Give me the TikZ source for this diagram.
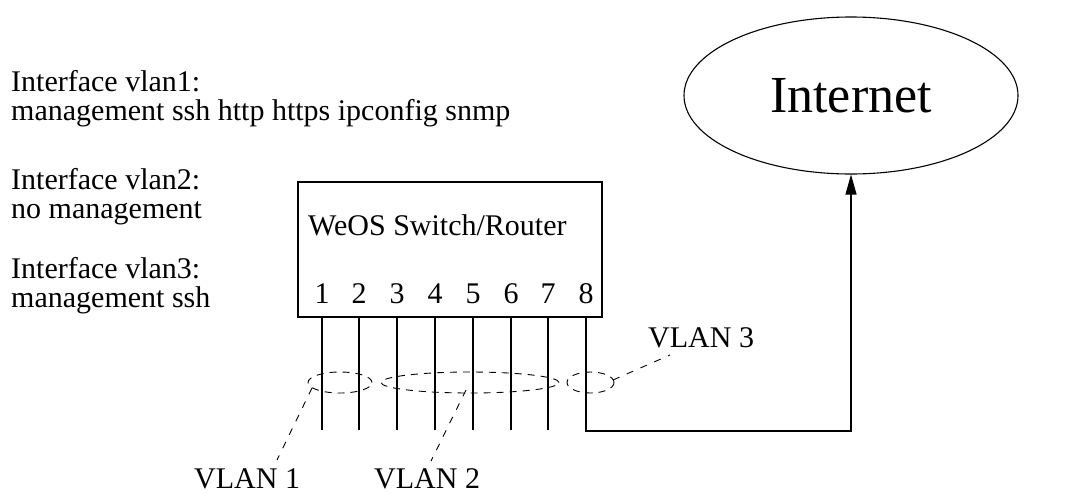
\documentclass[tikz,border=0pt]{standalone}
\usepackage{fontspec}
\setmainfont{Liberation Serif}
\usetikzlibrary{shapes.geometric,arrows.meta}
\tikzset{
  lbl/.style={anchor=base west, inner sep=0pt, font=\fontsize{30}{30}\selectfont},
  num/.style={anchor=base, inner sep=0pt, font=\fontsize{30}{30}\selectfont},
  wire/.style={draw, line width=1.1pt},
  vgroup/.style={draw, ellipse, dash pattern=on 7pt off 6pt, line width=0.9pt, inner sep=0pt},
  pointer/.style={draw, dash pattern=on 7pt off 8pt, line width=0.9pt},
}
\begin{document}
\begin{tikzpicture}[x=1pt,y=-1pt]
\useasboundingbox (0,0) rectangle (1067,493);
% left texts
\node[lbl] (t1a) at (11,91) {Interface vlan1:};
\node[lbl] (t1b) at (11,120) {management ssh http https ipconfig snmp};
\node[lbl] (t2a) at (11,189) {Interface vlan2:};
\node[lbl] (t2b) at (11,218) {no management};
\node[lbl] (t3a) at (11,278) {Interface vlan3:};
\node[lbl] (t3b) at (11,307) {management ssh};
% switch box
\node[draw, line width=1.1pt, minimum width=304pt, minimum height=135pt, inner sep=0pt] (box) at (450,249.5) {};
\node[lbl] (title) at (308,235) {WeOS Switch/Router};
% ports
\foreach \i/\x in {1/322,2/359,3/397,4/435,5/473,6/511,7/548,8/586} {
  \node[num] (n\i) at (\x,303) {\i};
  \coordinate (p\i) at (\x,317);
  \coordinate (q\i) at (\x,430);
}
\foreach \i in {1,...,7} { \draw[wire] (p\i) -- (q\i); }
% Internet
\node[draw, ellipse, line width=1.1pt, minimum width=334pt, minimum height=157pt, inner sep=0pt,
      font=\fontsize{52}{52}\selectfont] (inet) at (851,95.5) {Internet};
\coordinate (corner) at (586,431);
\coordinate (corner2) at (851,431);
\draw[wire, -{Triangle[length=20pt,width=11pt]}] (p8) -- (corner) -- (corner2) -- (inet.south);
% VLAN groups
\node[vgroup, minimum width=64pt, minimum height=21pt] (g1) at (340,382.5) {};
\node[vgroup, minimum width=178pt, minimum height=21pt] (g2) at (470,382.5) {};
\node[vgroup, minimum width=47pt, minimum height=21pt] (g3) at (590.5,382.5) {};
% VLAN labels
\node[lbl] (v1) at (194,488) {VLAN 1};
\node[lbl] (v2) at (374,488) {VLAN 2};
\node[lbl] (v3) at (648,347) {VLAN 3};
\coordinate (v1a) at (312,388);
\coordinate (v1b) at (277,460);
\coordinate (v2a) at (466,390);
\coordinate (v2b) at (431,461);
\coordinate (v3a) at (613,380);
\coordinate (v3b) at (670,355);
\draw[pointer] (v1a) -- (v1b);
\draw[pointer] (v2a) -- (v2b);
\draw[pointer] (v3a) -- (v3b);
\end{tikzpicture}
\end{document}
